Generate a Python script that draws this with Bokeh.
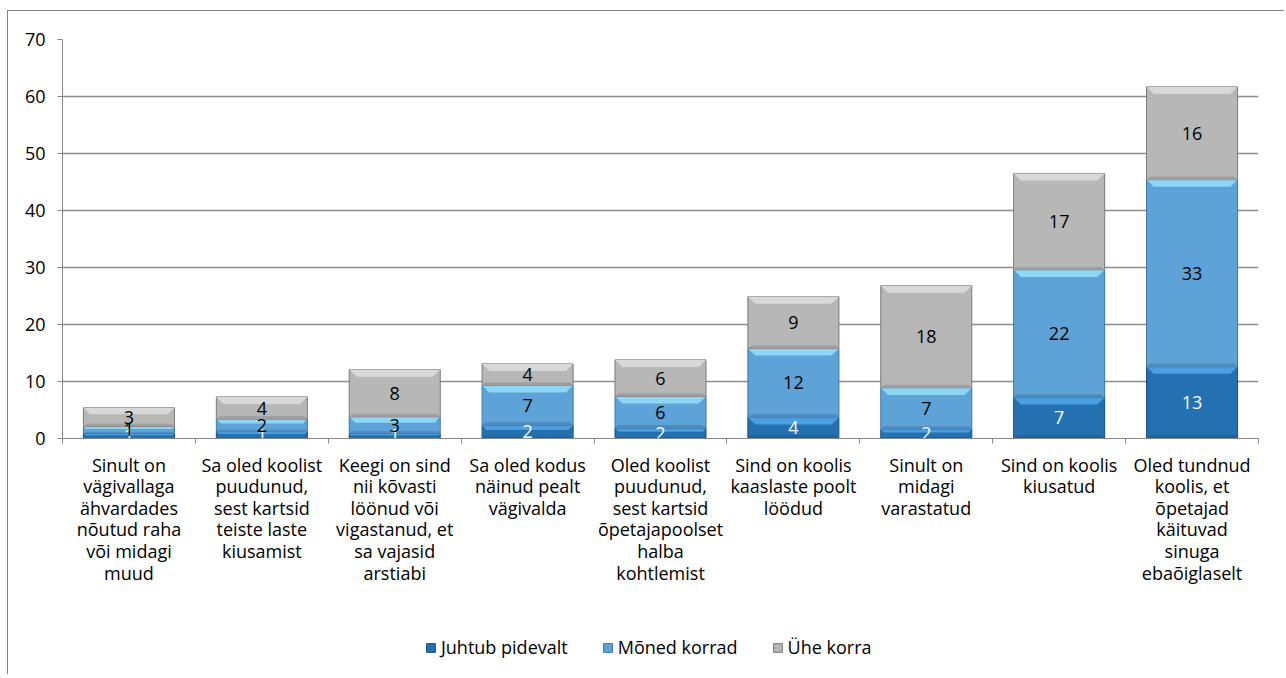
from bokeh.plotting import figure
from bokeh.layouts import column
from bokeh.models import Range1d, FixedTicker, Legend, LegendItem, ColumnDataSource
from bokeh.embed import file_html
from bokeh.resources import INLINE
from bokeh.core.properties import value

categories = [
    "Sinult on\nvägivallaga\nähvardades\nnõutud raha\nvõi midagi\nmuud",
    "Sa oled koolist\npuudunud,\nsest kartsid\nteiste laste\nkiusamist",
    "Keegi on sind\nnii kõvasti\nlöönud või\nvigastanud, et\nsa vajasid\narstiabi",
    "Sa oled kodus\nnäinud pealt\nvägivalda",
    "Oled koolist\npuudunud,\nsest kartsid\nõpetajapoolset\nhalba\nkohtlemist",
    "Sind on koolis\nkaaslaste poolt\nlöödud",
    "Sinult on\nmidagi\nvarastatud",
    "Sind on koolis\nkiusatud",
    "Oled tundnud\nkoolis, et\nõpetajad\nkäituvad\nsinuga\nebaõiglaselt",
]
series_names = ["Juhtub pidevalt", "Mõned korrad", "Ühe korra"]
juhtub = [0.9, 1.2, 0.9, 2.3, 1.8, 3.7, 1.6, 7.2, 12.6]
moned = [1.2, 2.2, 2.9, 7.0, 5.6, 12.1, 7.3, 22.4, 32.8]
uhe = [3.3, 3.9, 8.3, 3.8, 6.4, 9.1, 17.9, 16.9, 16.3]
y_ticks = [0, 10, 20, 30, 40, 50, 60, 70]

body_colors = ["#2371B1", "#5EA3D7", "#B7B7B7"]
hi_colors = ["#4A9FE0", "#8DD6F6", "#D8D8D8"]
lo_colors = ["#1E6099", "#4F8BBE", "#A0A0A0"]
edge_colors = ["#1A4F7C", "#3F76A3", "#7A7A7A"]
text_colors = ["white", "black", "black"]

n = len(categories)
xs = [i + 0.5 for i in range(n)]

font = "Open Sans"
fsize = "18px"
W = 1276

p = figure(width=W, height=609, output_backend="svg", toolbar_location=None,
           x_range=Range1d(0, n), y_range=Range1d(0, 70),
           min_border_left=54, min_border_right=W - 1250, min_border_top=28,
           min_border_bottom=182)
p.outline_line_color = None

# y axis
p.yaxis.ticker = FixedTicker(ticks=y_ticks)
p.yaxis.axis_line_color = "#868686"
p.yaxis.major_tick_line_color = "#868686"
p.yaxis.major_tick_out = 5
p.yaxis.major_tick_in = 0
p.yaxis.minor_tick_line_color = None
p.yaxis.major_label_text_font = font
p.yaxis.major_label_text_font_size = fsize
p.yaxis.major_label_text_color = "black"
p.yaxis.major_label_standoff = 12

# x axis: category texts at centres, ticks at boundaries
p.xaxis.ticker = FixedTicker(ticks=xs, minor_ticks=list(range(n + 1)))
p.xaxis.major_label_overrides = {x: c for x, c in zip(xs, categories)}
p.xaxis.major_label_text_font = font
p.xaxis.major_label_text_font_size = fsize
p.xaxis.major_label_text_color = "black"
p.xaxis.major_label_text_line_height = 0.9
p.xaxis.major_label_standoff = 9
p.xaxis.axis_line_color = "#868686"
p.xaxis.major_tick_line_color = None
p.xaxis.major_tick_out = 0
p.xaxis.major_tick_in = 0
p.xaxis.minor_tick_line_color = "#868686"
p.xaxis.minor_tick_out = 5
p.xaxis.minor_tick_in = 0

p.xgrid.grid_line_color = None
p.ygrid.ticker = FixedTicker(ticks=y_ticks[1:])
p.ygrid.grid_line_color = "#8C8C8C"
p.ygrid.grid_line_width = 1.3

series = [juhtub, moned, uhe]
bottoms = [0.0] * n
bw = 0.685
half = bw / 2
for k, vals in enumerate(series):
    tops = [b + v for b, v in zip(bottoms, vals)]
    hh = [min(1.25, v * 0.35) for v in vals]      # bevel heights (data units)
    lh = [min(0.55, v * 0.15) for v in vals]
    dx = [h * 0.055 / 1.25 for h in hh]
    dxl = [h * 0.055 / 1.25 for h in lh]
    p.vbar(x=xs, bottom=bottoms, top=tops, width=bw,
           fill_color=body_colors[k], line_color=edge_colors[k], line_width=1)
    p.patches(xs=[[x - half, x + half, x + half - d, x - half + d] for x, d in zip(xs, dx)],
              ys=[[t, t, t - h, t - h] for t, h in zip(tops, hh)],
              fill_color=hi_colors[k], line_color=None)
    p.patches(xs=[[x - half, x + half, x + half - d, x - half + d] for x, d in zip(xs, dxl)],
              ys=[[b, b, b + h, b + h] for b, h in zip(bottoms, lh)],
              fill_color=lo_colors[k], line_color=None)
    bottoms = tops

bottoms = [0.0] * n
for k, vals in enumerate(series):
    tops = [b + v for b, v in zip(bottoms, vals)]
    src = ColumnDataSource(dict(x=xs, mid=[b + v / 2 for b, v in zip(bottoms, vals)],
                                lab=[str(int(v + 0.5)) for v in vals]))
    p.text(x="x", y="mid", text="lab", source=src, text_align="center",
           text_baseline="middle", text_font=value(font), text_font_size=fsize,
           text_color=text_colors[k])
    bottoms = tops

# legend in its own strip below the chart
pl = figure(width=W, height=54, output_backend="svg", toolbar_location=None,
            x_range=Range1d(0, 1), y_range=Range1d(0, 1), min_border=0)
pl.axis.visible = False
pl.grid.visible = False
pl.outline_line_color = None
items = []
for k, name in enumerate(series_names):
    r = pl.vbar(x=[-5], top=[-5], bottom=[-6], width=0.1, fill_color=body_colors[k],
                line_color=edge_colors[k])
    items.append(LegendItem(label=name, renderers=[r]))
legend = Legend(items=items, orientation="horizontal", location=(363, 15),
                label_text_font=font, label_text_font_size=fsize, label_text_color="black",
                glyph_width=11, glyph_height=11, spacing=34, label_standoff=5,
                border_line_color=None, background_fill_alpha=0, margin=0, padding=0)
pl.add_layout(legend, "center")

layout = column(p, pl, spacing=0, margin=(10, 0, 0, 7),
                styles={"border-left": "1px solid #868686", "border-top": "1px solid #868686"})

open("out.html", "w").write(file_html(layout, INLINE))
